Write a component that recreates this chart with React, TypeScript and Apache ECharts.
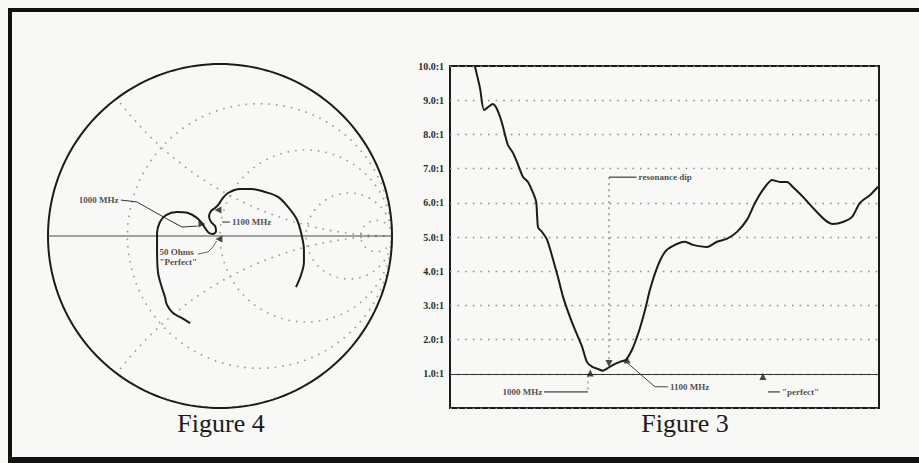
import React, { useEffect, useRef } from "react";
import * as echarts from "echarts";

// ---------- Figure 3: VSWR sweep ----------
const swrFreqMHz = [653, 668, 680, 692, 706, 715, 727, 736, 750, 765, 780, 794, 809, 824, 833, 836, 839, 850, 865, 883, 897, 912, 932, 947, 968, 982, 997, 1012, 1029, 1041, 1059, 1079, 1097, 1115, 1126, 1138, 1153, 1167, 1188, 1211, 1235, 1270, 1294, 1335, 1364, 1394, 1423, 1452, 1476, 1499, 1526, 1549, 1570, 1587, 1617, 1646, 1681, 1705, 1734, 1761, 1784, 1814, 1837];
const swrRatio = [10.0, 9.36, 8.71, 8.8, 8.89, 8.8, 8.51, 8.21, 7.69, 7.46, 7.11, 6.76, 6.61, 6.29, 6.03, 5.59, 5.27, 5.15, 4.92, 4.33, 3.83, 3.25, 2.67, 2.29, 1.79, 1.35, 1.21, 1.15, 1.09, 1.15, 1.26, 1.35, 1.41, 1.71, 1.99, 2.34, 2.87, 3.45, 4.1, 4.56, 4.74, 4.86, 4.77, 4.71, 4.86, 4.95, 5.15, 5.5, 6.0, 6.38, 6.67, 6.61, 6.61, 6.46, 6.17, 5.85, 5.5, 5.38, 5.44, 5.59, 6.0, 6.23, 6.47];
const swrAxisMin = 0;
const swrAxisMax = 10;
const swrAxisStep = 1;
const freqAxisMin = 580;
const freqAxisMax = 1840;

// markers on the VSWR plot
const swrMarkerFreq = [992, 1100, 1047, 1499];
const swrMarkerSwr = [1.02, 1.4, 1.3, 0.92];
const swrMarkerRotate = [0, 0, 180, 0];

// annotation texts on the VSWR plot
const swrLabelText = ["1000 MHz", "1100 MHz", "\"perfect\"", "resonance dip"];
const swrLabelFreq = [851, 1226, 1555, 1134];
const swrLabelSwr = [0.47, 0.62, 0.47, 6.75];
const swrLabelAlign = ["right", "left", "left", "left"];

// leader lines on the VSWR plot
const leader1000 = [[985, 0.95], [985, 0.47], [856, 0.47]];
const leader1100 = [[1103, 1.3], [1182, 0.62], [1220, 0.62]];
const leaderPerfect = [[1514, 0.47], [1549, 0.47]];
const leaderDip = [[1047, 6.75], [1128, 6.75]];
const dipDrop = [[1047, 6.75], [1047, 1.42]];

// ---------- Figure 4: Smith chart ----------
const smithGammaRe = [-0.174, -0.221, -0.273, -0.308, -0.32, -0.337, -0.36, -0.366, -0.366, -0.349, -0.314, -0.25, -0.186, -0.14, -0.11, -0.087, -0.064, -0.041, -0.023, -0.029, -0.052, -0.064, -0.052, -0.029, -0.006, 0.012, 0.047, 0.116, 0.186, 0.262, 0.337, 0.395, 0.448, 0.477, 0.488, 0.488, 0.471, 0.442];
const smithGammaIm = [-0.506, -0.477, -0.448, -0.401, -0.355, -0.302, -0.215, -0.081, 0.017, 0.081, 0.122, 0.14, 0.134, 0.11, 0.081, 0.047, 0.017, 0.012, 0.029, 0.058, 0.081, 0.116, 0.145, 0.163, 0.186, 0.215, 0.25, 0.273, 0.273, 0.256, 0.227, 0.169, 0.093, -0.006, -0.081, -0.151, -0.227, -0.297];
const smithResistances = [0.3, 1, 3, 10];
const smithReactances = [0.5, -0.5];

const smithMarkerRe = [-0.105, -0.012, -0.006];
const smithMarkerIm = [0.07, 0.151, -0.017];
const smithMarkerRotate = [-90, 90, 90];

const smithLabelText = ["1000 MHz", "1100 MHz", "50 Ohms\n\"Perfect\""];
const smithLabelRe = [-0.59, 0.07, -0.352];
const smithLabelIm = [0.207, 0.081, -0.12];
const smithLabelAlign = ["right", "left", "left"];

const smithLeader1000 = [[-0.576, 0.209], [-0.483, 0.198], [-0.308, 0.099], [-0.221, 0.052], [-0.13, 0.058]];
const smithLeader1100 = [[0.012, 0.081], [0.058, 0.081]];
const smithLeaderPerfect = [[-0.128, -0.105], [-0.07, -0.093], [-0.041, -0.064], [-0.02, -0.03]];

const FONT = "'Liberation Serif', 'DejaVu Serif', serif";
const INK = "#1b1b1b";

function resistanceCircle(r: number): number[][] {
  const c = r / (1 + r);
  const rad = 1 / (1 + r);
  const pts: number[][] = [];
  for (let a = 0; a <= 360; a += 2) {
    const t = (a * Math.PI) / 180;
    pts.push([c + rad * Math.cos(t), rad * Math.sin(t)]);
  }
  return pts;
}

function reactanceArc(x: number): number[][] {
  const cy = 1 / x;
  const rad = Math.abs(1 / x);
  const px = (x * x - 1) / (x * x + 1);
  const py = (2 * x) / (x * x + 1);
  const a0 = Math.atan2(-cy, 0);
  const a1 = Math.atan2(py - cy, px - 1);
  const pts: number[][] = [];
  const n = 80;
  for (let i = 0; i <= n; i++) {
    const t = a0 + ((a1 - a0) * i) / n;
    pts.push([1 + rad * Math.cos(t), cy + rad * Math.sin(t)]);
  }
  return pts;
}

function textSeries(name: string, xi: number, texts: string[], xs: number[], ys: number[], aligns: string[], size: number) {
  return {
    name,
    type: "scatter",
    xAxisIndex: xi,
    yAxisIndex: xi,
    symbolSize: 0,
    silent: true,
    z: 6,
    data: texts.map((t, i) => ({
      value: [xs[i], ys[i]],
      label: {
        show: true,
        formatter: t,
        position: aligns[i] === "right" ? "left" : "right",
        distance: 0,
        align: aligns[i],
        verticalAlign: "middle",
        fontFamily: FONT,
        fontSize: size,
        fontWeight: "bold",
        color: INK,
        lineHeight: size + 1,
      },
    })),
  };
}

function leaderSeries(name: string, xi: number, pts: number[][], dotted = false, color = INK) {
  return {
    name,
    type: "line",
    xAxisIndex: xi,
    yAxisIndex: xi,
    data: pts,
    symbol: "none",
    silent: true,
    z: 4,
    lineStyle: { color, width: dotted ? 1.2 : 1, type: dotted ? [2, 4] : "solid" },
  };
}

export default function App() {
  const ref = useRef<HTMLDivElement>(null);
  useEffect(() => {
    if (!ref.current) return;
    const chart = echarts.init(ref.current, undefined, { renderer: "svg" });

    const series: any[] = [];
    smithResistances.forEach((r) => {
      series.push({
        name: "r=" + r,
        type: "line",
        xAxisIndex: 0,
        yAxisIndex: 0,
        data: resistanceCircle(r),
        symbol: "none",
        silent: true,
        z: 1,
        lineStyle: { color: "#9a9a9a", width: 1.6, type: [1.6, 6] },
      });
    });
    smithReactances.forEach((x) => {
      series.push({
        name: "x=" + x,
        type: "line",
        xAxisIndex: 0,
        yAxisIndex: 0,
        data: reactanceArc(x),
        symbol: "none",
        silent: true,
        z: 1,
        lineStyle: { color: "#9a9a9a", width: 1.6, type: [1.6, 6] },
      });
    });
    series.push({
      name: "outer",
      type: "line",
      xAxisIndex: 0,
      yAxisIndex: 0,
      data: resistanceCircle(0),
      symbol: "none",
      silent: true,
      z: 2,
      lineStyle: { color: INK, width: 2 },
    });
    series.push({
      name: "real axis",
      type: "line",
      xAxisIndex: 0,
      yAxisIndex: 0,
      data: [[-1, 0], [1, 0]],
      symbol: "none",
      silent: true,
      z: 2,
      lineStyle: { color: "#4a4a4a", width: 1.2 },
    });
    series.push({
      name: "impedance",
      type: "line",
      xAxisIndex: 0,
      yAxisIndex: 0,
      data: smithGammaRe.map((re, i) => [re, smithGammaIm[i]]),
      symbol: "none",
      smooth: 0.35,
      z: 3,
      lineStyle: { color: INK, width: 2 },
    });
    series.push({
      name: "smith markers",
      type: "scatter",
      xAxisIndex: 0,
      yAxisIndex: 0,
      symbol: "triangle",
      symbolSize: 7,
      z: 5,
      itemStyle: { color: INK },
      data: smithMarkerRe.map((re, i) => ({ value: [re, smithMarkerIm[i]], symbolRotate: smithMarkerRotate[i] })),
    });
    series.push(leaderSeries("smith leader 1000", 0, smithLeader1000, false, "#333"));
    series.push(leaderSeries("smith leader 1100", 0, smithLeader1100, false, "#333"));
    series.push(leaderSeries("smith leader perfect", 0, smithLeaderPerfect, false, "#666"));
    series.push(textSeries("smith labels", 0, smithLabelText, smithLabelRe, smithLabelIm, smithLabelAlign, 9));

    series.push({
      name: "VSWR",
      type: "line",
      xAxisIndex: 1,
      yAxisIndex: 1,
      data: swrFreqMHz.map((f, i) => [f, swrRatio[i]]),
      symbol: "none",
      smooth: 0.25,
      z: 3,
      lineStyle: { color: INK, width: 2 },
      markLine: {
        silent: true,
        symbol: "none",
        label: { show: false },
        lineStyle: { type: "solid", color: "#333", width: 1.2 },
        data: [{ yAxis: 1 }],
      },
    });
    series.push(leaderSeries("dip drop", 1, dipDrop, true, "#777"));
    series.push(leaderSeries("dip leader", 1, leaderDip));
    series.push(leaderSeries("1000 drop", 1, leader1000.slice(0, 2), true, "#888"));
    series.push(leaderSeries("1000 leader", 1, leader1000.slice(1)));
    series.push(leaderSeries("1100 leader", 1, leader1100, false, "#444"));
    series.push(leaderSeries("perfect leader", 1, leaderPerfect));
    series.push({
      name: "swr markers",
      type: "scatter",
      xAxisIndex: 1,
      yAxisIndex: 1,
      symbol: "triangle",
      symbolSize: 7,
      z: 5,
      itemStyle: { color: INK },
      data: swrMarkerFreq.map((f, i) => ({ value: [f, swrMarkerSwr[i]], symbolRotate: swrMarkerRotate[i] })),
    });
    series.push(textSeries("swr labels", 1, swrLabelText, swrLabelFreq, swrLabelSwr, swrLabelAlign, 9));

    chart.setOption({
      animation: false,
      backgroundColor: "#f8f8f6",
      grid: [
        { left: 48, top: 64, width: 344, height: 344, show: false },
        { left: 450, top: 66, width: 429, height: 342, show: true, borderColor: INK, borderWidth: 2, backgroundColor: "transparent" },
      ],
      xAxis: [
        { type: "value", gridIndex: 0, min: -1, max: 1, show: false },
        { type: "value", gridIndex: 1, min: freqAxisMin, max: freqAxisMax, show: false },
      ],
      yAxis: [
        { type: "value", gridIndex: 0, min: -1, max: 1, show: false },
        {
          type: "value",
          gridIndex: 1,
          min: swrAxisMin,
          max: swrAxisMax,
          interval: swrAxisStep,
          axisLine: { show: false },
          axisTick: { show: false },
          axisLabel: {
            formatter: (v: number) => (v === 0 ? "" : v.toFixed(1) + ":1"),
            fontFamily: FONT,
            fontSize: 10,
            fontWeight: "bold",
            color: "#2a2a2a",
            margin: 6,
          },
          splitLine: { show: true, lineStyle: { type: [1.6, 6], color: "#8f8f8f", width: 1.4 } },
        },
      ],
      graphic: [
        { type: "rect", shape: { x: 8, y: 8, width: 911, height: 4 }, style: { fill: "#111" }, silent: true },
        { type: "rect", shape: { x: 8, y: 8, width: 4, height: 455 }, style: { fill: "#111" }, silent: true },
        { type: "rect", shape: { x: 8, y: 457, width: 911, height: 6 }, style: { fill: "#111" }, silent: true },
        { type: "text", x: 221, y: 423, style: { text: "Figure 4", fontFamily: FONT, fontSize: 26, fill: INK, textAlign: "center", textVerticalAlign: "middle" }, silent: true },
        { type: "text", x: 685, y: 423, style: { text: "Figure 3", fontFamily: FONT, fontSize: 26, fill: INK, textAlign: "center", textVerticalAlign: "middle" }, silent: true },
      ],
      series,
    });
    return () => chart.dispose();
  }, []);
  return <div ref={ref} style={{ position: "absolute", left: 0, top: 0, width: 919, height: 463 }} />;
}
